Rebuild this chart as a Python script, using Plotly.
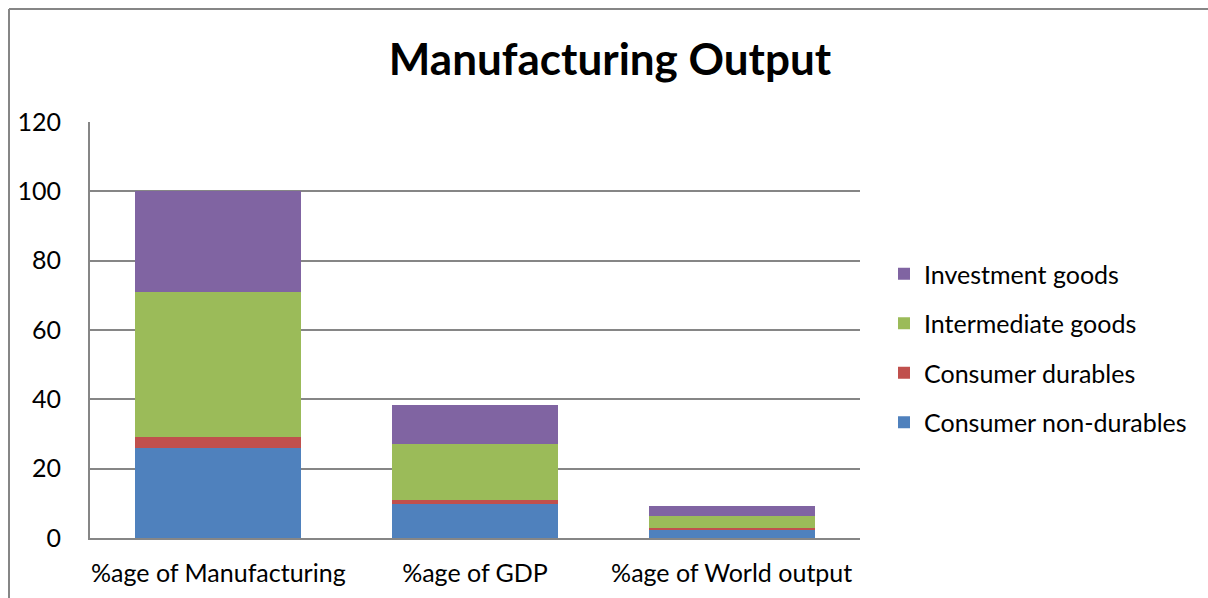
import plotly.graph_objects as go

categories = ["%age of Manufacturing", "%age of GDP", "%age of World output"]
consumer_non_durables = [26.0, 9.7, 2.5]
consumer_durables = [3.0, 1.3, 0.5]
intermediate_goods = [42.0, 16.1, 3.35]
investment_goods = [29.0, 11.3, 2.85]

series = [
    ("Consumer non-durables", consumer_non_durables, "#4F81BD"),
    ("Consumer durables", consumer_durables, "#C0504D"),
    ("Intermediate goods", intermediate_goods, "#9BBB59"),
    ("Investment goods", investment_goods, "#8064A2"),
]

FONT = "Lato, Calibri, 'Open Sans', sans-serif"
TXT = 25

fig = go.Figure()
for i, (name, vals, color) in enumerate(series):
    fig.add_trace(go.Bar(
        x=categories, y=vals, name=name, legendgroup=name,
        legendrank=1000 - i,
        marker=dict(color=color, line=dict(width=0)),
    ))

# plot area: x 90..860, y 122..538 in a 1208x598 page
L, R, T, B = 90, 860, 122, 538
W, H = 1208, 598
fig.update_layout(
    width=W, height=H,
    barmode="stack", bargap=0.353,
    margin=dict(l=L, r=W - R, t=T, b=H - B, pad=0, autoexpand=False),
    paper_bgcolor="white", plot_bgcolor="white",
    font=dict(family=FONT, size=TXT, color="#000000"),
    title=dict(text="<b>Manufacturing Output</b>", x=610 / W, xanchor="center",
               y=1 - 60 / H, yanchor="middle",
               font=dict(family=FONT, size=44, color="#000000")),
    legend=dict(x=(884 - L) / (R - L), xanchor="left", y=(B - 348) / (B - T), yanchor="middle",
                traceorder="grouped", font=dict(family=FONT, size=TXT),
                itemwidth=30, tracegroupgap=14, bgcolor="rgba(0,0,0,0)"),
    showlegend=True,
)
fig.update_xaxes(showgrid=False, showline=True, linecolor="#868686", linewidth=2,
                 ticks="", automargin=False,
                 tickfont=dict(size=TXT, family=FONT), ticklabelstandoff=12)
fig.update_yaxes(range=[0, 120], dtick=20, showgrid=True, gridcolor="#868686", gridwidth=2,
                 showline=True, linecolor="#868686", linewidth=2, zeroline=False,
                 ticks="", automargin=False,
                 tickfont=dict(size=TXT, family=FONT), ticklabelstandoff=22)

# outer chart frame: left and top edges
fx = lambda px: (px - L) / (R - L)
fy = lambda py: (B - py) / (B - T)
fig.add_shape(type="line", xref="paper", yref="paper", x0=fx(9), x1=fx(1210), y0=fy(9), y1=fy(9),
              line=dict(color="#868686", width=2))
fig.add_shape(type="line", xref="paper", yref="paper", x0=fx(9), x1=fx(9), y0=fy(9), y1=fy(600),
              line=dict(color="#868686", width=2))

fig.write_html("out.html")
